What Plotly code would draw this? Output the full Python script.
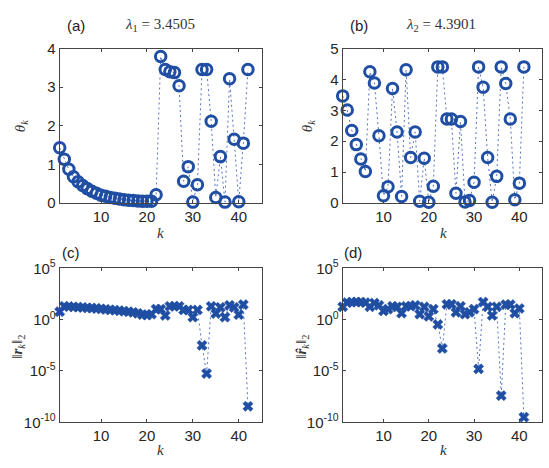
import plotly.graph_objects as go

# ---- data ----
k1 = list(range(1, 43))
k2 = list(range(1, 42))
theta1 = [1.43, 1.13, 0.87, 0.68, 0.55, 0.45, 0.37, 0.30, 0.25, 0.20,
          0.17, 0.14, 0.12, 0.10, 0.08, 0.07, 0.06, 0.05, 0.04, 0.04,
          0.04, 0.21, 3.80, 3.46, 3.40, 3.38, 3.04, 0.56, 0.94, 0.02,
          0.47, 3.46, 3.46, 2.12, 0.14, 1.20, 0.02, 3.22, 1.65, 0.03,
          1.55, 3.46]
theta2 = [3.47, 3.01, 2.35, 1.89, 1.42, 1.02, 4.25, 3.89, 2.18, 0.23,
          0.52, 3.71, 2.30, 0.21, 4.32, 1.47, 2.30, 0.05, 1.45, 0.02,
          0.54, 4.41, 4.41, 2.72, 2.72, 0.31, 2.64, 0.03, 0.08, 0.67,
          4.41, 3.75, 1.47, 0.02, 0.86, 4.41, 3.87, 2.72, 0.10, 0.64,
          4.41]
# residual norms, as log10 exponents
res1_log10 = [0.78, 1.31, 1.28, 1.25, 1.22, 1.19, 1.16, 1.13, 1.10, 1.06,
              1.00, 0.96, 0.92, 0.88, 0.83, 0.78, 0.72, 0.62, 0.50, 0.45,
              0.53, 1.03, 1.03, 0.41, 1.31, 1.31, 1.31, 0.95, 0.95, 0.25,
              0.95, -2.5, -5.25, 1.31, 0.60, 1.20, 0.25, 1.40, 1.20, 0.50,
              1.47, -8.44]
res2_log10 = [1.26, 1.66, 1.72, 1.72, 1.72, 1.66, 1.26, 1.63, 1.41, 0.85,
              1.03, 1.31, 1.25, 0.63, 1.31, 1.31, 1.41, 0.54, 1.25, 0.32,
              1.03, -0.46, -2.8, 1.5, 1.5, 0.72, 1.31, 0.54, 0.72, 1.03,
              -4.8, 1.72, 1.26, 0.41, 1.26, -7.4, 1.47, 1.47, 0.63, 1.09,
              -9.5]
res1 = [10 ** e for e in res1_log10]
res2 = [10 ** e for e in res2_log10]

x_ticks = [10, 20, 30, 40]
log_tickvals = [1e-10, 1e-5, 1, 1e5]
log_ticktext = ["10<sup>-10</sup>", "10<sup>-5</sup>", "10<sup>0</sup>", "10<sup>5</sup>"]

MC = "#1f4ea3"
LC = "#5573bb"

W, H = 549, 468
def fx(px):
    return px / W
def fy(py):
    return 1 - py / H

fig = go.Figure()

def add(x, y, xa, ya, symbol, size, lw):
    fig.add_trace(go.Scatter(
        x=x, y=y, xaxis=xa, yaxis=ya, mode="lines+markers",
        line=dict(color=LC, width=1, dash="2px,3px"),
        marker=dict(symbol=symbol, size=size, color=MC,
                    line=dict(color=MC, width=lw)),
        cliponaxis=False, showlegend=False))

add(k1, theta1, "x", "y", "circle-open", 10.5, 3)
add(k2, theta2, "x2", "y2", "circle-open", 10.5, 3)
add(k1, res1, "x3", "y3", "x", 9, 0.5)
add(k2, res2, "x4", "y4", "x", 9, 0.5)

tickfont = dict(family="Liberation Sans, Arial, sans-serif", size=15, color="#262626")
axcommon = dict(showline=True, linecolor="#444", linewidth=1, mirror="ticks",
                ticks="inside", ticklen=3, tickcolor="#444", showgrid=False,
                zeroline=False, tickfont=tickfont)

L1, R1 = fx(59.7), fx(261.7)
L2, R2 = fx(342.7), fx(542)
T1, B1 = fy(39.3), fy(200)
T2, B2 = fy(268.3), fy(428.7)

fig.update_layout(
    width=W, height=H, margin=dict(l=0, r=0, t=0, b=0),
    paper_bgcolor="white", plot_bgcolor="white",
    xaxis=dict(domain=[L1, R1], range=[1, 45], tickvals=x_ticks, anchor="y", **axcommon),
    yaxis=dict(domain=[B1, T1], range=[0, 4], tickvals=[0, 1, 2, 3, 4], anchor="x", **axcommon),
    xaxis2=dict(domain=[L2, R2], range=[1, 45], tickvals=x_ticks, anchor="y2", **axcommon),
    yaxis2=dict(domain=[B1, T1], range=[0, 5], tickvals=[0, 1, 2, 3, 4, 5], anchor="x2", **axcommon),
    xaxis3=dict(domain=[L1, R1], range=[1, 45], tickvals=x_ticks, anchor="y3", **axcommon),
    yaxis3=dict(domain=[B2, T2], type="log", range=[-10, 5], tickvals=log_tickvals,
                ticktext=log_ticktext, anchor="x3", **axcommon),
    xaxis4=dict(domain=[L2, R2], range=[1, 45], tickvals=x_ticks, anchor="y4", **axcommon),
    yaxis4=dict(domain=[B2, T2], type="log", range=[-10, 5], tickvals=log_tickvals,
                ticktext=log_ticktext, anchor="x4", **axcommon),
)

sans = dict(family="Liberation Sans, Arial, sans-serif", size=15, color="#222")
serif = dict(family="Liberation Serif, Times New Roman, serif", size=15, color="#333")

def ann(text, x, y, font, angle=0):
    fig.add_annotation(text=text, x=fx(x), y=fy(y), xref="paper", yref="paper",
                       showarrow=False, font=font, textangle=angle,
                       xanchor="center", yanchor="middle")

ann("(a)", 76, 15, sans)
ann("<i>λ</i><sub>1</sub> = 3.4505", 160, 15, serif)
ann("(b)", 359, 15, sans)
ann("<i>λ</i><sub>2</sub> = 4.3901", 441, 15, serif)
ann("(c)", 71, 252, sans)
ann("(d)", 353, 252, sans)
ann("<i>θ<sub>k</sub></i>", 21, 120, serif, -90)
ann("<i>θ<sub>k</sub></i>", 308, 120, serif, -90)
ann("<i>k</i>", 160, 231, serif)
ann("<i>k</i>", 443, 231, serif)
ann("<i>k</i>", 160, 458, serif)
ann("<i>k</i>", 443, 458, serif)
ann("‖<b><i>r</i></b><sub><i>k</i></sub>‖<sub>2</sub>", 18, 350, serif, -90)
ann("‖<b><i>r̂</i></b><sub><i>k</i></sub>‖<sub>2</sub>", 302, 350, serif, -90)

fig.write_html("out.html")
